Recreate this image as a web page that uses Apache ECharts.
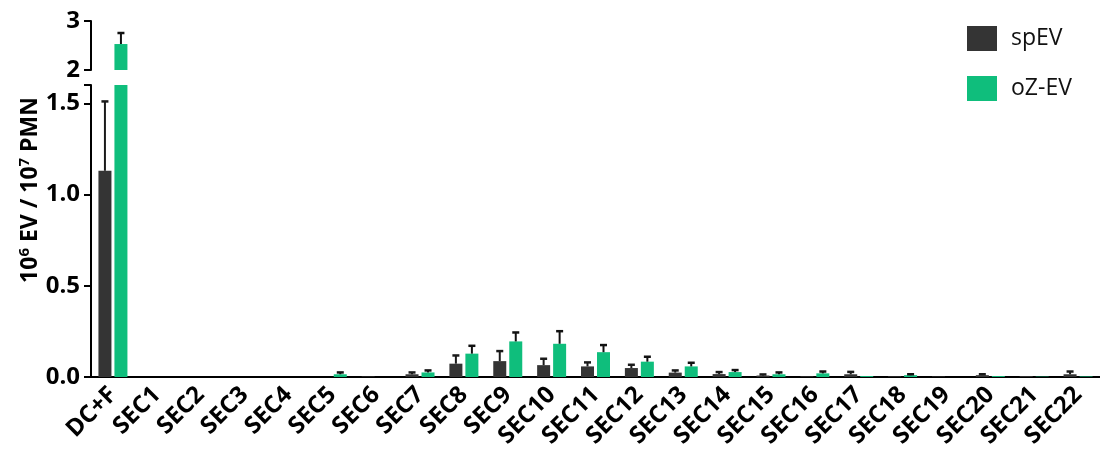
<!DOCTYPE html>
<html>
<head>
<meta charset="utf-8">
<script src="https://cdn.jsdelivr.net/npm/echarts@6/dist/echarts.min.js"></script>
<style>
html,body{margin:0;padding:0;background:#fff;}
#chart{width:1100px;height:452px;}
</style>
</head>
<body>
<div id="chart"></div>
<script>
const categories = ['DC+F','SEC1','SEC2','SEC3','SEC4','SEC5','SEC6','SEC7','SEC8','SEC9','SEC10','SEC11','SEC12','SEC13','SEC14','SEC15','SEC16','SEC17','SEC18','SEC19','SEC20','SEC21','SEC22'];
const spEV  = [1.13, 0, 0, 0, 0, 0, 0.003, 0.015, 0.073, 0.087, 0.065, 0.058, 0.049, 0.024, 0.016, 0.008, 0.004, 0.015, 0.004, 0.003, 0.010, 0.005, 0.015];
const spErr = [0.38, 0, 0, 0, 0, 0, 0, 0.010, 0.045, 0.055, 0.035, 0.022, 0.018, 0.012, 0.011, 0.006, 0, 0.013, 0, 0, 0.005, 0, 0.015];
const ozEV  = [2.53, 0, 0, 0, 0, 0.015, 0, 0.025, 0.128, 0.195, 0.182, 0.136, 0.084, 0.058, 0.027, 0.015, 0.020, 0.005, 0.010, 0, 0.005, 0.002, 0.003];
const ozErr = [0.225, 0, 0, 0, 0, 0.010, 0, 0.011, 0.043, 0.049, 0.069, 0.039, 0.027, 0.020, 0.011, 0.010, 0.010, 0, 0.005, 0, 0, 0, 0];
const lowerTicksMax = 1.6;
const upperMin = 2, upperMax = 3;

const DARK = '#343434', GREEN = '#0fbe7c';
const FONT = '"Open Sans", sans-serif';

function errData(vals, errs) {
  return vals.map((v, i) => [i, v, errs[i]]);
}
function errSeries(xi, yi, vals, errs, offset, color) {
  return {
    type: 'custom', xAxisIndex: xi, yAxisIndex: yi, clip: true, silent: true,
    data: errData(vals, errs),
    z: 5,
    renderItem: function (params, api) {
      const e = api.value(2);
      if (!e) return null;
      const idx = api.value(0), v = api.value(1);
      const x = api.coord([idx, v])[0] + offset;
      const yb = api.coord([idx, v])[1];
      const yt = api.coord([idx, v + e])[1];
      const st = { stroke: color, lineWidth: 2 };
      return {
        type: 'group', children: [
          { type: 'line', shape: { x1: x, y1: yb, x2: x, y2: yt }, style: st },
          { type: 'line', shape: { x1: x - 3.5, y1: yt, x2: x + 3.5, y2: yt }, style: Object.assign({}, st, { lineWidth: 2.5 }) }
        ]
      };
    }
  };
}

const chart = echarts.init(document.getElementById('chart'));
const gridW = 1013;
const barCommon = { barWidth: 13, barGap: '23%' };
const option = {
  animation: false,
  backgroundColor: '#fff',
  legend: {
    data: ['spEV', 'oZ-EV'],
    orient: 'vertical', left: 962, top: 21,
    itemWidth: 30, itemHeight: 25, itemGap: 25, icon: 'rect',
    textStyle: { fontFamily: '"Open Sans", sans-serif', fontSize: 23, color: '#111', padding: [0, 0, 0, 9] }
  },
  grid: [
    { left: 91, top: 85, width: gridW, height: 292 },
    { left: 91, top: 21, width: gridW, height: 49 }
  ],
  xAxis: [
    {
      type: 'category', gridIndex: 0, data: categories,
      axisLine: { lineStyle: { color: '#000', width: 2 } },
      axisTick: { alignWithLabel: true, length: 7, lineStyle: { color: '#000', width: 2 } },
      axisLabel: { rotate: 45, interval: 0, margin: 14, fontFamily: FONT, fontWeight: 'bold', fontSize: 24, color: '#000' }
    },
    { type: 'category', gridIndex: 1, data: categories, show: false }
  ],
  yAxis: [
    {
      type: 'value', gridIndex: 0, min: 0, max: lowerTicksMax, interval: 0.5,
      splitLine: { show: false },
      axisLine: { show: true, lineStyle: { color: '#000', width: 2 } },
      axisTick: { show: true, length: 7, lineStyle: { color: '#000', width: 2 } },
      axisLabel: {
        margin: 11, fontFamily: FONT, fontWeight: 'bold', fontSize: 24, color: '#000',
        formatter: v => (Math.abs(v - lowerTicksMax) < 1e-9 ? '' : v.toFixed(1))
      }
    },
    {
      type: 'value', gridIndex: 1, min: upperMin, max: upperMax, interval: 1,
      splitLine: { show: false },
      axisLine: { show: true, lineStyle: { color: '#000', width: 2 } },
      axisTick: { show: true, length: 7, lineStyle: { color: '#000', width: 2 } },
      axisLabel: { margin: 11, fontFamily: FONT, fontWeight: 'bold', fontSize: 24, color: '#000' }
    }
  ],
  graphic: [{
    type: 'text', x: 30, y: 190, rotation: Math.PI / 2,
    style: {
      text: '10{s|6} EV / 10{s|7} PMN',
      fontFamily: FONT, fontWeight: 'bold', fontSize: 23, fill: '#000',
      align: 'center', verticalAlign: 'middle',
      rich: { s: { fontFamily: FONT, fontWeight: 'bold', fontSize: 15, verticalAlign: 'top', padding: [0, 0, 10, 0], fill: '#000' } }
    }
  }],
  series: [
    Object.assign({ name: 'spEV', type: 'bar', xAxisIndex: 0, yAxisIndex: 0, data: spEV, itemStyle: { color: DARK } }, barCommon),
    Object.assign({ name: 'oZ-EV', type: 'bar', xAxisIndex: 0, yAxisIndex: 0, data: ozEV, itemStyle: { color: GREEN } }, barCommon),
    Object.assign({ name: 'spEV', type: 'bar', xAxisIndex: 1, yAxisIndex: 1, data: spEV, itemStyle: { color: DARK } }, barCommon),
    Object.assign({ name: 'oZ-EV', type: 'bar', xAxisIndex: 1, yAxisIndex: 1, data: ozEV, itemStyle: { color: GREEN } }, barCommon),
    errSeries(0, 0, spEV, spErr, -8, '#1a1a1a'),
    errSeries(0, 0, ozEV, ozErr, 8, '#111'),
    errSeries(1, 1, spEV, spErr, -8, '#1a1a1a'),
    errSeries(1, 1, ozEV, ozErr, 8, '#111')
  ]
};
chart.setOption(option);
</script>
</body>
</html>
